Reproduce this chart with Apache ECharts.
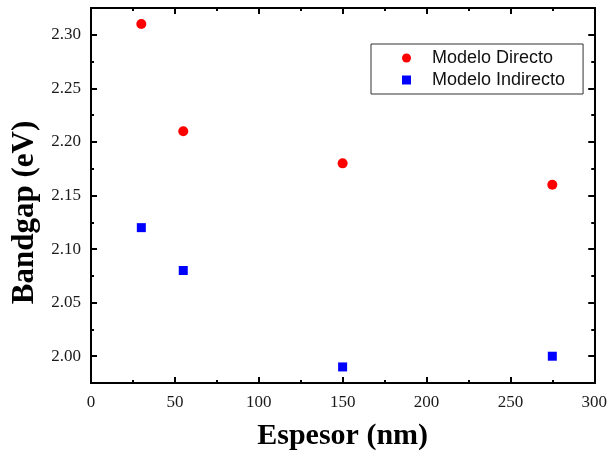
<!DOCTYPE html>
<html>
<head>
<meta charset="utf-8">
<script src="https://cdn.jsdelivr.net/npm/echarts@6/dist/echarts.min.js"></script>
<style>
  html, body { margin: 0; padding: 0; background: #fff; }
  #chart { width: 610px; height: 457px; }
</style>
</head>
<body>
<div id="chart"></div>
<script>
// Film thickness (nm) and the band gaps obtained from each model (eV)
const espesor = [30, 55, 150, 275];
const directo = [2.31, 2.21, 2.18, 2.16];
const indirecto = [2.12, 2.08, 1.99, 2.00];

const seriesNames = ['Modelo Directo', 'Modelo Indirecto'];

// Axis ranges and tick positions
const xMin = 0, xMax = 300, xStep = 50;
const yMin = 1.975, yMax = 2.325;
const yMajorTicks = [2.00, 2.05, 2.10, 2.15, 2.20, 2.25, 2.30];
const yMinorTicks = [2.025, 2.075, 2.125, 2.175, 2.225, 2.275];

const serif = '"Liberation Serif", "Times New Roman", serif';
const sans = '"Liberation Sans", Arial, sans-serif';
const ink = '#000';

const pairs = (xs, ys) => xs.map((x, i) => [x, ys[i]]);

function xAxisDef(pos, withLabels) {
  return {
    type: 'value', position: pos, min: xMin, max: xMax, interval: xStep,
    axisLine: { show: true, onZero: false, lineStyle: { color: ink, width: 2 } },
    axisTick: { show: true, inside: true, length: 6, lineStyle: { color: ink, width: 2 } },
    minorTick: { show: true, splitNumber: 2, length: 3, lineStyle: { color: ink, width: 2 } },
    splitLine: { show: false },
    axisLabel: withLabels
      ? { show: true, margin: 11, fontFamily: serif, fontSize: 17, color: '#1a1a1a' }
      : { show: false },
    name: withLabels ? 'Espesor (nm)' : '',
    nameLocation: 'middle', nameGap: 38,
    nameTextStyle: { fontFamily: serif, fontSize: 30, fontWeight: 'bold', color: ink }
  };
}

function yAxisDef(pos, ticks, tickLen, withLabels) {
  return {
    type: 'value', position: pos, min: yMin, max: yMax,
    axisLine: { show: true, onZero: false, lineStyle: { color: ink, width: 2 } },
    axisTick: { show: true, inside: true, length: tickLen, customValues: ticks,
                lineStyle: { color: ink, width: 2 } },
    splitLine: { show: false },
    axisLabel: withLabels
      ? { show: true, customValues: ticks, margin: 10, fontFamily: serif, fontSize: 17,
          color: '#1a1a1a', formatter: v => v.toFixed(2) }
      : { show: false },
    name: withLabels ? 'Bandgap (eV)' : '',
    nameLocation: 'middle', nameGap: 49, nameRotate: 90,
    nameTextStyle: { fontFamily: serif, fontSize: 31, fontWeight: 'bold', color: ink,
                     padding: [0, 34, 0, 0] }
  };
}

const chart = echarts.init(document.getElementById('chart'), null, { renderer: 'canvas' });
chart.setOption({
  animation: false,
  backgroundColor: '#fff',
  grid: { left: 91, right: 12, top: 8, bottom: 74, containLabel: false },
  legend: {
    data: seriesNames,
    orient: 'vertical',
    left: 371, top: 44,
    padding: [5, 18, 5, 31],
    itemWidth: 9, itemHeight: 9, itemGap: 4,
    borderColor: '#333', borderWidth: 1,
    textStyle: { fontFamily: sans, fontSize: 18, color: '#111', lineHeight: 18,
                 padding: [0, 0, 0, 16] }
  },
  xAxis: [xAxisDef('bottom', true), xAxisDef('top', false)],
  yAxis: [
    yAxisDef('left', yMajorTicks, 6, true),
    yAxisDef('right', yMajorTicks, 6, false),
    yAxisDef('left', yMinorTicks, 3, false),
    yAxisDef('right', yMinorTicks, 3, false)
  ],
  series: [
    { name: seriesNames[0], type: 'scatter', symbol: 'circle', symbolSize: 10,
      itemStyle: { color: '#ff0000', opacity: 1 }, data: pairs(espesor, directo) },
    { name: seriesNames[1], type: 'scatter', symbol: 'rect', symbolSize: 9,
      itemStyle: { color: '#0000ff', opacity: 1 }, data: pairs(espesor, indirecto) }
  ]
});
</script>
</body>
</html>
